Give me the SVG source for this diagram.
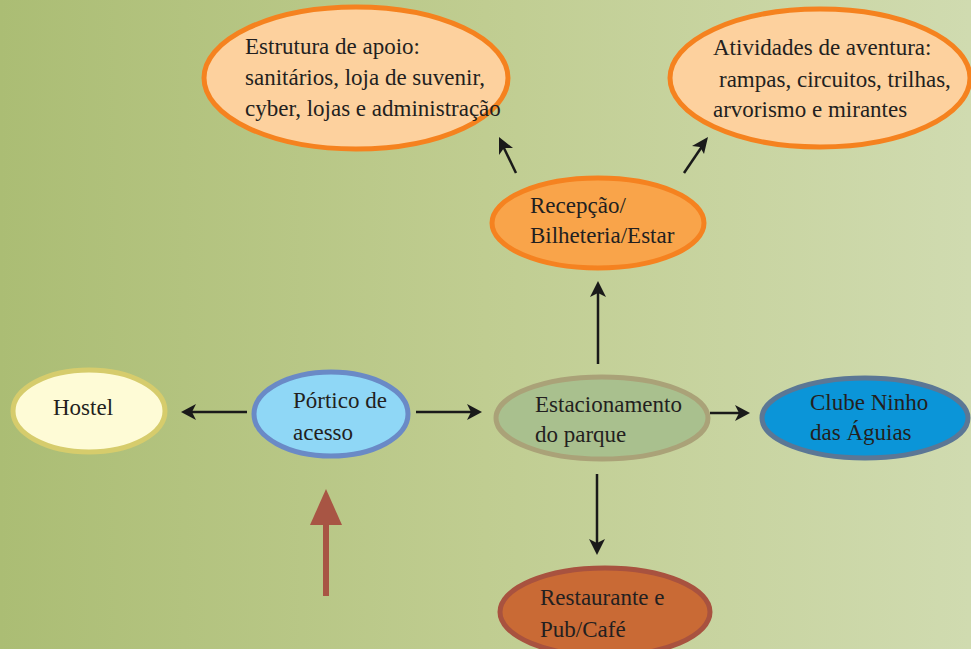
<svg xmlns="http://www.w3.org/2000/svg" width="971" height="649" viewBox="0 0 971 649">
  <defs>
    <linearGradient id="bg" x1="0" y1="0" x2="1" y2="0">
      <stop offset="0" stop-color="#abbd74"/>
      <stop offset="0.5" stop-color="#c0cd91"/>
      <stop offset="1" stop-color="#d0dbb0"/>
    </linearGradient>
    <style>
      text { font-family: "Liberation Serif", "DejaVu Serif", serif; font-size: 23px; fill: #231f20; }
      .conn { stroke: #1a1a1a; stroke-width: 2.5; fill: none; }
      .head { fill: #1a1a1a; }
      .orange { fill: #fdd19e; stroke: #f5821f; stroke-width: 5; }
    </style>
  </defs>

  <rect width="971" height="649" fill="url(#bg)"/>

  <!-- connectors -->
  <g id="connectors">
    <line class="conn" x1="247" y1="412" x2="186" y2="412"/>
    <path class="head" d="M181,412 L196,404 L192,412 L196,420 Z"/>
    <line class="conn" x1="416" y1="412" x2="476" y2="412"/>
    <path class="head" d="M482,412 L467,404 L471,412 L467,420 Z"/>
    <line class="conn" x1="710" y1="413" x2="744" y2="413"/>
    <path class="head" d="M750,413 L735,405 L739,413 L735,421 Z"/>
    <line class="conn" x1="598" y1="364" x2="598" y2="287"/>
    <path class="head" d="M598,281 L590,297 L598,293 L606,297 Z"/>
    <line class="conn" x1="597" y1="474" x2="597" y2="549"/>
    <path class="head" d="M597,555 L589,539 L597,543 L605,539 Z"/>
    <line class="conn" x1="516" y1="173" x2="502" y2="144"/>
    <path class="head" d="M499,137 L499,155 L504,148 L513,148 Z"/>
    <line class="conn" x1="684" y1="173" x2="703" y2="145"/>
    <path class="head" d="M708,137 L692,146 L700,147 L704,154 Z"/>
    <!-- entrance arrow -->
    <line x1="326" y1="596" x2="326" y2="520" stroke="#a85544" stroke-width="6"/>
    <path d="M326,489 L310,525 L342,525 Z" fill="#a85544"/>
  </g>

  <g id="estrutura">
    <ellipse class="orange" cx="356" cy="78" rx="152" ry="71"/>
    <text x="245" y="54">Estrutura de apoio:</text>
    <text x="245" y="85">sanitários, loja de suvenir,</text>
    <text x="245" y="116">cyber, lojas e administração</text>
  </g>

  <g id="atividades">
    <ellipse class="orange" cx="820" cy="78" rx="150" ry="69"/>
    <text x="713" y="55">Atividades de aventura:</text>
    <text x="719" y="87">rampas, circuitos, trilhas,</text>
    <text x="713" y="117">arvorismo e mirantes</text>
  </g>

  <g id="recepcao">
    <ellipse cx="598" cy="223" rx="106" ry="45" fill="#f9a44a" stroke="#f58220" stroke-width="5"/>
    <text x="530" y="213">Recepção/</text>
    <text x="530" y="243">Bilheteria/Estar</text>
  </g>

  <g id="hostel">
    <ellipse cx="89" cy="411" rx="76" ry="41" fill="#fefbd6" stroke="#d6cc6c" stroke-width="5"/>
    <text x="53" y="415">Hostel</text>
  </g>

  <g id="portico">
    <ellipse cx="331" cy="414" rx="77" ry="42" fill="#8fd7f6" stroke="#6a8ac6" stroke-width="5"/>
    <text x="293" y="408">Pórtico de</text>
    <text x="293" y="440">acesso</text>
  </g>

  <g id="estacionamento">
    <ellipse cx="602" cy="418" rx="106" ry="41" fill="#a9c08e" stroke="#aaa278" stroke-width="5"/>
    <text x="535" y="412">Estacionamento</text>
    <text x="535" y="442">do parque</text>
  </g>

  <g id="clube">
    <ellipse cx="865" cy="418" rx="103" ry="40" fill="#0b95d8" stroke="#5b7795" stroke-width="5"/>
    <text x="810" y="410">Clube Ninho</text>
    <text x="810" y="440">das Águias</text>
  </g>

  <g id="restaurante">
    <ellipse cx="605" cy="612" rx="105" ry="44" fill="#c96a35" stroke="#a8523f" stroke-width="5"/>
    <text x="540" y="605">Restaurante e</text>
    <text x="540" y="637">Pub/Café</text>
  </g>
</svg>
